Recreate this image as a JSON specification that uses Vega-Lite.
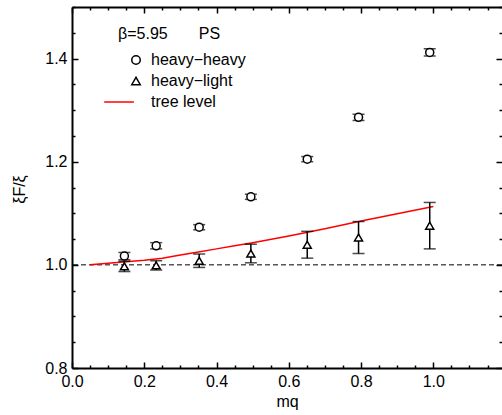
{
  "$schema": "https://vega.github.io/schema/vega-lite/v6.json",
  "width": 430,
  "height": 361,
  "autosize": "none",
  "padding": {"left": 72, "top": 7, "right": 0, "bottom": 47},
  "config": {
    "view": {"stroke": null},
    "font": "Liberation Sans",
    "axis": {"grid": false, "domainColor": "black", "domainWidth": 2, "tickColor": "black", "tickWidth": 1.5, "labelColor": "black", "labelFontSize": 16, "labelFont": "Liberation Sans", "titleFont": "Liberation Sans", "titleFontSize": 16, "titleFontWeight": "normal", "titleColor": "black", "labelOverlap": false, "labelBound": false, "labelFlush": false}
  },
  "datasets": {
    "pts": [
      {"x": 0.145, "y": 1.017, "lo": 1.010, "hi": 1.024, "series": "heavy\u2212heavy"},
      {"x": 0.233, "y": 1.037, "lo": 1.031, "hi": 1.043, "series": "heavy\u2212heavy"},
      {"x": 0.352, "y": 1.073, "lo": 1.068, "hi": 1.078, "series": "heavy\u2212heavy"},
      {"x": 0.495, "y": 1.132, "lo": 1.127, "hi": 1.137, "series": "heavy\u2212heavy"},
      {"x": 0.651, "y": 1.205, "lo": 1.200, "hi": 1.210, "series": "heavy\u2212heavy"},
      {"x": 0.793, "y": 1.286, "lo": 1.280, "hi": 1.292, "series": "heavy\u2212heavy"},
      {"x": 0.990, "y": 1.412, "lo": 1.405, "hi": 1.419, "series": "heavy\u2212heavy"},
      {"x": 0.145, "y": 0.997, "lo": 0.987, "hi": 1.007, "series": "heavy\u2212light"},
      {"x": 0.233, "y": 0.999, "lo": 0.990, "hi": 1.008, "series": "heavy\u2212light"},
      {"x": 0.352, "y": 1.008, "lo": 0.995, "hi": 1.021, "series": "heavy\u2212light"},
      {"x": 0.495, "y": 1.022, "lo": 1.004, "hi": 1.040, "series": "heavy\u2212light"},
      {"x": 0.651, "y": 1.039, "lo": 1.013, "hi": 1.065, "series": "heavy\u2212light"},
      {"x": 0.793, "y": 1.053, "lo": 1.022, "hi": 1.084, "series": "heavy\u2212light"},
      {"x": 0.990, "y": 1.076, "lo": 1.031, "hi": 1.121, "series": "heavy\u2212light"}
    ],
    "tree": [
      {"x": 0.05, "y": 1.000, "series": "tree level"},
      {"x": 0.10, "y": 1.003, "series": "tree level"},
      {"x": 0.15, "y": 1.006, "series": "tree level"},
      {"x": 0.20, "y": 1.009, "series": "tree level"},
      {"x": 0.25, "y": 1.013, "series": "tree level"},
      {"x": 0.30, "y": 1.019, "series": "tree level"},
      {"x": 0.35, "y": 1.025, "series": "tree level"},
      {"x": 0.40, "y": 1.031, "series": "tree level"},
      {"x": 0.45, "y": 1.037, "series": "tree level"},
      {"x": 0.50, "y": 1.043, "series": "tree level"},
      {"x": 0.60, "y": 1.056, "series": "tree level"},
      {"x": 0.70, "y": 1.070, "series": "tree level"},
      {"x": 0.80, "y": 1.085, "series": "tree level"},
      {"x": 0.90, "y": 1.099, "series": "tree level"},
      {"x": 1.00, "y": 1.113, "series": "tree level"}
    ]
  },
  "resolve": {"axis": {"x": "independent", "y": "independent"}},
  "layer": [
    {
      "data": {"values": [{"y": 1.0}]},
      "mark": {"type": "rule", "color": "black", "strokeWidth": 1, "strokeDash": [5, 3]},
      "encoding": {
        "y": {"field": "y", "type": "quantitative", "scale": {"domain": [0.8, 1.5], "nice": false, "zero": false}, "axis": null}
      }
    },
    {
      "data": {"name": "tree"},
      "mark": {"type": "line", "strokeWidth": 1.5},
      "encoding": {
        "x": {"field": "x", "type": "quantitative", "scale": {"domain": [0, 1.19], "nice": false, "zero": false},
          "axis": {"orient": "top", "title": null, "labels": false, "domain": true,
            "values": [0, 0.05, 0.1, 0.15, 0.2, 0.25, 0.3, 0.35, 0.4, 0.45, 0.5, 0.55, 0.6, 0.65, 0.7, 0.75, 0.8, 0.85, 0.9, 0.95, 1.0, 1.05, 1.1, 1.15],
            "tickSize": {"condition": {"test": "abs(datum.value*5-round(datum.value*5))<0.001", "value": -6}, "value": -3}}},
        "y": {"field": "y", "type": "quantitative", "scale": {"domain": [0.8, 1.5], "nice": false, "zero": false},
          "axis": {"orient": "right", "title": null, "labels": false, "domain": false,
            "values": [0.8, 0.85, 0.9, 0.95, 1.0, 1.05, 1.1, 1.15, 1.2, 1.25, 1.3, 1.35, 1.4, 1.45, 1.5],
            "tickSize": {"condition": {"test": "abs(datum.value*5-round(datum.value*5))<0.001", "value": -6}, "value": -3}}},
        "color": {"field": "series", "type": "nominal",
          "scale": {"domain": ["heavy\u2212heavy", "heavy\u2212light", "tree level"], "range": ["black", "black", "#ff0000"]},
          "legend": {"orient": "none", "legendX": 46, "legendY": 19, "padding": 0,
            "title": "\u03b2=5.95\u00a0\u00a0\u00a0\u00a0\u00a0\u00a0\u00a0PS", "titleFontSize": 16, "titleFontWeight": "normal", "titleColor": "black", "titlePadding": 10,
            "labelFontSize": 16, "labelColor": "black", "symbolOffset": 10, "labelOffset": 7, "symbolStrokeWidth": 1.5, "symbolSize": 72, "rowPadding": 5}}
      }
    },
    {
      "data": {"name": "pts"},
      "mark": {"type": "rule", "color": "black", "strokeWidth": 1.5},
      "encoding": {
        "x": {"field": "x", "type": "quantitative", "axis": null},
        "y": {"field": "lo", "type": "quantitative", "axis": null},
        "y2": {"field": "hi"}
      }
    },
    {
      "data": {"name": "pts"},
      "mark": {"type": "tick", "orient": "horizontal", "color": "black", "size": 12, "thickness": 1.5},
      "encoding": {
        "x": {"field": "x", "type": "quantitative", "axis": null},
        "y": {"field": "lo", "type": "quantitative", "axis": null}
      }
    },
    {
      "data": {"name": "pts"},
      "mark": {"type": "tick", "orient": "horizontal", "color": "black", "size": 12, "thickness": 1.5},
      "encoding": {
        "x": {"field": "x", "type": "quantitative", "axis": null},
        "y": {"field": "hi", "type": "quantitative", "axis": null}
      }
    },
    {
      "data": {"name": "pts"},
      "mark": {"type": "point", "filled": false, "strokeWidth": 1.5, "size": 64, "fill": "white", "fillOpacity": 1},
      "encoding": {
        "x": {"field": "x", "type": "quantitative",
          "axis": {"orient": "bottom", "title": "mq", "titleX": 215, "titleY": 38, "titleBaseline": "alphabetic",
            "values": [0, 0.05, 0.1, 0.15, 0.2, 0.25, 0.3, 0.35, 0.4, 0.45, 0.5, 0.55, 0.6, 0.65, 0.7, 0.75, 0.8, 0.85, 0.9, 0.95, 1.0, 1.05, 1.1, 1.15],
            "labelExpr": "abs(datum.value*5-round(datum.value*5))<0.001 ? format(datum.value,'.1f') : ''",
            "labelPadding": 11,
            "tickSize": {"condition": {"test": "abs(datum.value*5-round(datum.value*5))<0.001", "value": -6}, "value": -3}}},
        "y": {"field": "y", "type": "quantitative",
          "axis": {"orient": "left", "title": "\u03beF/\u03be", "titleX": -53, "titleY": 182, "titleBaseline": "middle",
            "values": [0.8, 0.85, 0.9, 0.95, 1.0, 1.05, 1.1, 1.15, 1.2, 1.25, 1.3, 1.35, 1.4, 1.45, 1.5],
            "labelExpr": "abs(datum.value*5-round(datum.value*5))<0.001 ? format(datum.value,'.1f') : ''",
            "labelPadding": 11,
            "tickSize": {"condition": {"test": "abs(datum.value*5-round(datum.value*5))<0.001", "value": -6}, "value": -3}}},
        "shape": {"field": "series", "type": "nominal",
          "scale": {"domain": ["heavy\u2212heavy", "heavy\u2212light", "tree level"], "range": ["circle", "triangle-up", "M-7.5,0L-0.5,0"]}},
        "color": {"field": "series", "type": "nominal"}
      }
    }
  ]
}
